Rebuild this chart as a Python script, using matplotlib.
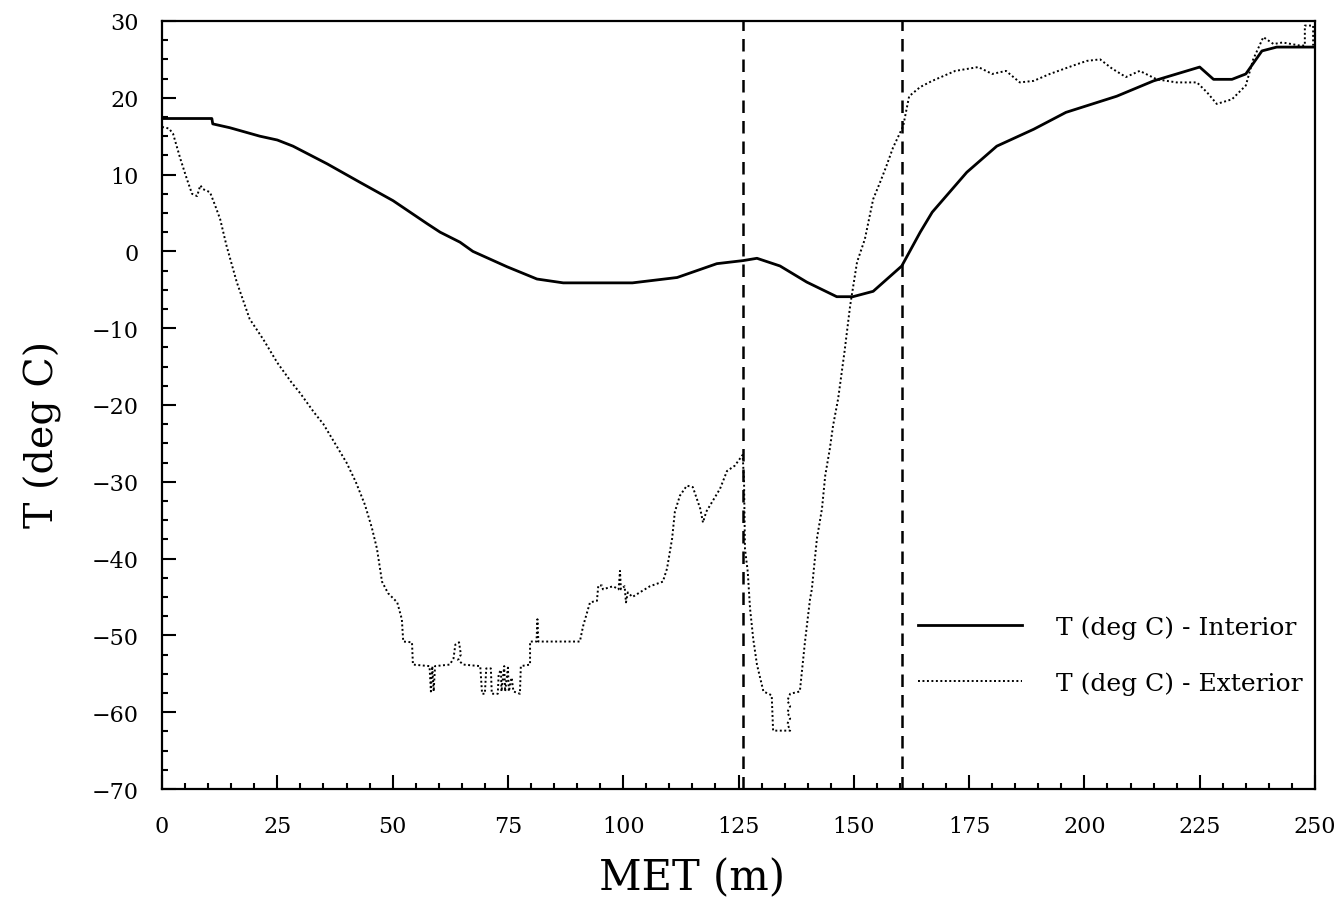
import matplotlib
matplotlib.use("Agg")
import matplotlib.pyplot as plt
from matplotlib.ticker import MultipleLocator

# MET (m) and temperature (deg C)
interior_x = [0, 10.8, 11, 14.7, 21.2, 25, 28.4, 35.8, 42.9, 50.1, 57.5, 60.3, 64.6, 67.4,
              74.8, 81.3, 87, 102, 111.7, 120.3, 126, 129, 134, 139.8, 146.3, 149.8,
              154.2, 160.4, 164.4, 167, 174.5, 181, 189, 196, 207, 215, 225, 228,
              232, 235, 238.5, 241.7, 250]
interior_t = [17.3, 17.3, 16.6, 16.1, 15.0, 14.5, 13.7, 11.4, 9.0, 6.6, 3.6, 2.5, 1.2, 0.0,
              -2.0, -3.6, -4.1, -4.1, -3.4, -1.6, -1.2, -0.9, -1.9, -4.0, -5.9, -5.9,
              -5.2, -1.9, 2.5, 5.1, 10.3, 13.7, 15.9, 18.1, 20.2, 22.2, 24.0, 22.4,
              22.4, 23.1, 26.1, 26.6, 26.6]

exterior_x = [0, 1.5, 2.4, 4, 5.4, 6.5, 7.6, 8.3, 8.9, 10.4, 11.5, 12.6, 14, 16.2, 19,
              22, 25, 28, 30, 33, 35, 38, 40, 42, 44, 45.5, 46.6, 47.7, 49, 51, 52,
              52.3, 54.2, 54.4, 58, 58.3, 58.6, 58.9, 59.2, 62.4, 63.2, 63.6, 64.4,
              64.8, 64.2, 65.3, 69, 69.4, 70, 70.3, 71.3, 71.5, 72.8, 73.0, 73.5,
              73.6, 74.2, 74.4, 75.0, 75.2, 75.8, 76.2, 77.6, 77.8, 79.8, 79.8, 81.2,
              81.4, 81.6, 84, 90.6, 91.3, 92.8, 94.3, 94.6, 95.4, 95.6, 97.8, 99.0,
              99.3, 99.5, 100.3, 100.6, 101, 102, 103.6, 105.8, 108.6, 109.5, 110.6,
              111.2, 112.3, 113.8, 115.1, 116.7, 117.3, 118, 118.8, 121, 122.5, 124.2,
              125.3, 125.9, 126.2, 126.4, 127, 127.5, 128.2, 129, 130.4, 132.2, 132.5,
              136.2, 135.6, 136.2, 135.6, 136.2, 135.6, 136.2, 138.3, 139.4, 140.5,
              140.9, 142, 143.1, 143.8, 144.8, 145.5, 146.6, 148, 149.2, 150.7, 152.4,
              154.2, 155.7, 157, 158.5, 160.7, 162, 164.4, 167, 172, 177, 180, 183,
              186, 189, 192.5, 197.6, 200.5, 203.4, 206, 209, 212, 215.7, 220, 224.4,
              226.6, 228.7, 232, 235, 236.6, 238.8, 241, 243, 246.7, 247.8, 247.8,
              249.6, 249.6]
exterior_t = [16.2, 16.0, 15.3, 12, 9.4, 7.5, 7.2, 8.6, 8.1, 7.7, 6, 4.2, 0.7, -4.0,
              -8.8, -11.5, -14.5, -17, -18.5, -21, -22.5, -25.5, -27.5, -30, -33, -36,
              -38.7, -43, -44.5, -45.7, -47.9, -50.8, -50.9, -53.8, -54, -57.3, -54,
              -57.3, -54, -53.8, -53, -51.2, -50.9, -52.5, -53.2, -53.8, -54, -57.6,
              -57.6, -54.3, -54.3, -57.6, -57.6, -55, -54.5, -57.3, -54, -57.3, -54.2,
              -57.3, -55.5, -57.3, -57.6, -54, -53.8, -50.8, -50.8, -47.9, -50.8,
              -50.8, -50.8, -48.8, -45.7, -45.5, -43.5, -43.5, -44, -43.6, -44, -41.6,
              -44, -43.6, -45.7, -44.4, -45, -44.4, -43.6, -43, -41.3, -37.4, -33.9,
              -31.8, -30.5, -30.7, -33.5, -35.3, -33.9, -33.1, -30.9, -28.6, -27.9,
              -27, -26.5, -30, -38.7, -41.7, -46.5, -50.5, -53.8, -57.3, -57.8, -62.4,
              -62.4, -61.5, -60.8, -60, -59.2, -58.5, -57.6, -57.3, -50.9, -45.3, -44,
              -37.4, -33.5, -29.2, -25.7, -22.7, -19.2, -13, -7.1, -1.4, 1.6, 6.8,
              9.0, 11, 13.5, 16.3, 20.2, 21.4, 22.2, 23.5, 24, 23.1, 23.5, 22.0, 22.2,
              23.1, 24.2, 24.8, 25.0, 23.8, 22.7, 23.5, 22.4, 22.0, 22.0, 20.7, 19.2,
              19.8, 21.6, 25, 27.9, 27, 27.2, 26.8, 26.8, 29.4, 29.4, 26.8]

markers_x = [126, 160.5]
x_ticks = [0, 25, 50, 75, 100, 125, 150, 175, 200, 225, 250]
y_ticks = [30, 20, 10, 0, -10, -20, -30, -40, -50, -60, -70]

fig = plt.figure(figsize=(13.38, 9.04), dpi=100)
ax = fig.add_axes([0.1211, 0.1261, 0.8617, 0.8496])

ax.plot(interior_x, interior_t, color="black", lw=2.0, label="T (deg C) - Interior")
ax.plot(exterior_x, exterior_t, color="black", lw=1.4, linestyle=(0, (1, 1.3)),
        label="T (deg C) - Exterior")
for mx in markers_x:
    ax.axvline(mx, color="black", lw=1.8, linestyle=(0, (5, 3.2)))

ax.set_xlim(0, 250)
ax.set_ylim(-70, 30)
ax.set_xticks(x_ticks)
ax.set_yticks(y_ticks)
ax.xaxis.set_minor_locator(MultipleLocator(5))
ax.yaxis.set_minor_locator(MultipleLocator(2.5))
ax.set_xticklabels([str(v) for v in x_ticks])
ax.set_yticklabels([str(v).replace("-", "\u2212") for v in y_ticks])

ax.tick_params(which="both", direction="in", top=False, right=False)
ax.tick_params(which="major", length=10, width=1.5, labelsize=16)
ax.tick_params(which="minor", length=4.5, width=1.5)
ax.tick_params(axis="x", which="major", pad=19)
ax.tick_params(axis="y", which="major", pad=17)
for lab in ax.get_xticklabels() + ax.get_yticklabels():
    lab.set_family("DejaVu Serif")
for s in ax.spines.values():
    s.set_linewidth(1.6)

ax.set_xlabel("MET (m)", fontsize=30, family="DejaVu Serif")
ax.set_ylabel("T (deg C)", fontsize=28.5, family="DejaVu Serif")
ax.xaxis.set_label_coords(0.4597, -0.088)
ax.yaxis.set_label_coords(-0.087, 0.4635)

leg = ax.legend(loc="upper left", bbox_to_anchor=(0.6557, 0.2259), frameon=False,
                prop={"family": "DejaVu Serif", "size": 18}, handlelength=4.15,
                handletextpad=1.35, labelspacing=1.3, borderaxespad=0, borderpad=0)

fig.savefig("out.png", dpi=100)
